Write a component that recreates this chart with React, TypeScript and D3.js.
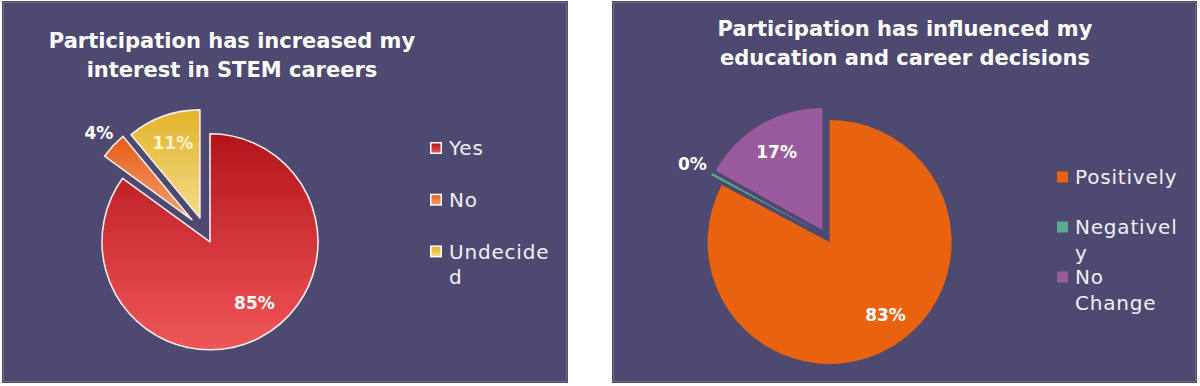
import React from "react";
import * as d3 from "d3";

// chart 1
const stemTitle = ["Participation has increased my", "interest in STEM careers"];
const stemCategories = ["Yes", "No", "Undecided"];
const stemValues = [85, 4, 11];

// chart 2
const decisionTitle = ["Participation has influenced my", "education and career decisions"];
const decisionCategories = ["Positively", "Negatively", "No Change"];
const decisionValues = [83, 0.3, 17];

const BG = "#4e4970";
const TEXT = "#f2f0f7";
const LEGEND_FONT = "'DejaVu Sans', sans-serif";
const BOLD_FONT = "'DejaVu Sans', sans-serif";
const LS = 0.8;
const LEGEND_SIZE = 20;

let measureCtx: CanvasRenderingContext2D | null = null;
const measure = (s: string) => {
  if (!measureCtx) {
    measureCtx = document.createElement("canvas").getContext("2d");
  }
  if (!measureCtx) return s.length * 11;
  measureCtx.font = `${LEGEND_SIZE}px ${LEGEND_FONT}`;
  return measureCtx.measureText(s).width + s.length * LS;
};

// wrap by word, then by character when a word is still too long
const wrap = (label: string, maxW: number) => {
  const lines: string[] = [];
  let cur = "";
  label.split(" ").forEach((w) => {
    const test = cur ? cur + " " + w : w;
    if (measure(test) <= maxW) {
      cur = test;
      return;
    }
    if (cur) lines.push(cur);
    cur = "";
    let piece = "";
    for (const ch of w) {
      if (measure(piece + ch) > maxW && piece) {
        lines.push(piece);
        piece = ch;
      } else piece += ch;
    }
    cur = piece;
  });
  if (cur) lines.push(cur);
  return lines;
};

type PieProps = {
  panel: [number, number, number, number];
  title: string[];
  titleX: number;
  titleY: number;
  categories: string[];
  values: number[];
  fills: string[];
  swatch: string[];
  cx: number;
  cy: number;
  r: number;
  explode: number[];
  outline: boolean;
  labelColors: string[];
  bigShift: number;
  bigFrac: number;
  legend: { x: number; textX: number; top: number; step: number; sq: number; border: boolean };
};

const PieChart = (p: PieProps) => {
  const pie = d3
    .pie<number>()
    .sort(null)
    .value((d) => d)
    .startAngle(0)
    .endAngle(2 * Math.PI);
  const arcs = pie(p.values);
  const arc = d3.arc<d3.PieArcDatum<number>>().innerRadius(0).outerRadius(p.r);
  const total = d3.sum(p.values);
  const biggest = d3.maxIndex(p.values);
  const [px, py, pw, ph] = p.panel;

  return (
    <g>
      <rect x={px} y={py} width={pw} height={ph} fill={BG} />
      <rect
        x={px + 1.5}
        y={py + 1.5}
        width={pw - 3}
        height={ph - 3}
        fill="none"
        stroke="rgba(255,255,255,0.18)"
        strokeWidth={1}
      />
      {p.title.map((t, i) => (
        <text
          key={t}
          x={p.titleX}
          y={p.titleY + i * 29.5}
          dy="0.36em"
          textAnchor="middle"
          fill="#ffffff"
          fontFamily={BOLD_FONT}
          fontWeight="bold"
          fontSize={21}
        >
          {t}
        </text>
      ))}
      {arcs.map((a, i) => {
        const mid = (a.startAngle + a.endAngle) / 2;
        const dx = Math.sin(mid) * p.explode[i];
        const dy = -Math.cos(mid) * p.explode[i];
        return (
          <path
            key={p.categories[i]}
            d={arc(a) || ""}
            transform={`translate(${p.cx + dx},${p.cy + dy})`}
            fill={p.fills[i]}
            stroke={p.outline ? "#fbeeee" : "none"}
            strokeWidth={1.6}
            strokeLinejoin="round"
          />
        );
      })}
      {arcs.map((a, i) => {
        const mid = (a.startAngle + a.endAngle) / 2;
        const ox = p.cx + Math.sin(mid) * p.explode[i];
        const oy = p.cy - Math.cos(mid) * p.explode[i];
        const pct = Math.round((a.value / total) * 100);
        const ang = mid + (i === biggest ? (p.bigShift * Math.PI) / 180 : 0);
        const frac = pct < 5 ? 1.18 : i === biggest ? p.bigFrac : 0.74;
        return (
          <text
            key={"l" + i}
            x={ox + Math.sin(ang) * p.r * frac}
            y={oy - Math.cos(ang) * p.r * frac}
            dy="0.36em"
            textAnchor="middle"
            fill={p.labelColors[i]}
            fontFamily={BOLD_FONT}
            fontWeight="bold"
            fontSize={17}
          >
            {pct + "%"}
          </text>
        );
      })}
      {p.categories.map((c, i) => {
        const y = p.legend.top + i * p.legend.step;
        const lines = wrap(c, 108);
        const s = p.legend.sq;
        return (
          <g key={"lg" + c}>
            <rect
              x={p.legend.x}
              y={y - s / 2}
              width={s}
              height={s}
              fill={p.swatch[i]}
              stroke={p.legend.border ? "#ffffff" : "none"}
              strokeWidth={1.5}
            />
            {lines.map((ln, k) => (
              <text
                key={k}
                x={p.legend.textX}
                y={y + k * 25.5}
                dy="0.36em"
                fill={TEXT}
                fontFamily={LEGEND_FONT}
                fontSize={LEGEND_SIZE}
                letterSpacing={LS}
              >
                {ln}
              </text>
            ))}
          </g>
        );
      })}
    </g>
  );
};

const grad = (id: string, top: string, bottom: string) => (
  <linearGradient id={id} x1="0" y1="0" x2="0" y2="1">
    <stop offset="0" stopColor={top} />
    <stop offset="1" stopColor={bottom} />
  </linearGradient>
);

export default function App() {
  return (
    <svg
      width={1200}
      height={386}
      style={{ position: "absolute", left: 0, top: 0, background: "#ffffff" }}
    >
      <defs>
        {grad("g-yes", "#b3141b", "#ef5659")}
        {grad("g-no", "#e65c17", "#f3a074")}
        {grad("g-und", "#e2b22a", "#f3dc88")}
      </defs>
      <PieChart
        panel={[2, 1, 566, 382]}
        title={stemTitle}
        titleX={232}
        titleY={40}
        categories={stemCategories}
        values={stemValues}
        fills={["url(#g-yes)", "url(#g-no)", "url(#g-und)"]}
        swatch={["url(#g-yes)", "url(#g-no)", "url(#g-und)"]}
        cx={205}
        cy={232}
        r={108}
        explode={[11, 18, 15]}
        outline={true}
        labelColors={["#ffffff", "#ffffff", "#fdf3d2"]}
        bigShift={-9}
        bigFrac={0.7}
        legend={{ x: 430.75, textX: 449, top: 148, step: 51.7, sq: 10.5, border: true }}
      />
      <PieChart
        panel={[612, 1, 585, 382]}
        title={decisionTitle}
        titleX={905}
        titleY={28}
        categories={decisionCategories}
        values={decisionValues}
        fills={["#e8620f", "#5aac8c", "#9a5a9e"]}
        swatch={["#e8620f", "#5aac8c", "#9a5a9e"]}
        cx={826}
        cy={236}
        r={122}
        explode={[7, 8, 7]}
        outline={false}
        labelColors={["#ffffff", "#ffffff", "#ffffff"]}
        bigShift={-6.6}
        bigFrac={0.75}
        legend={{ x: 1057, textX: 1075, top: 177, step: 50, sq: 11, border: false }}
      />
    </svg>
  );
}
